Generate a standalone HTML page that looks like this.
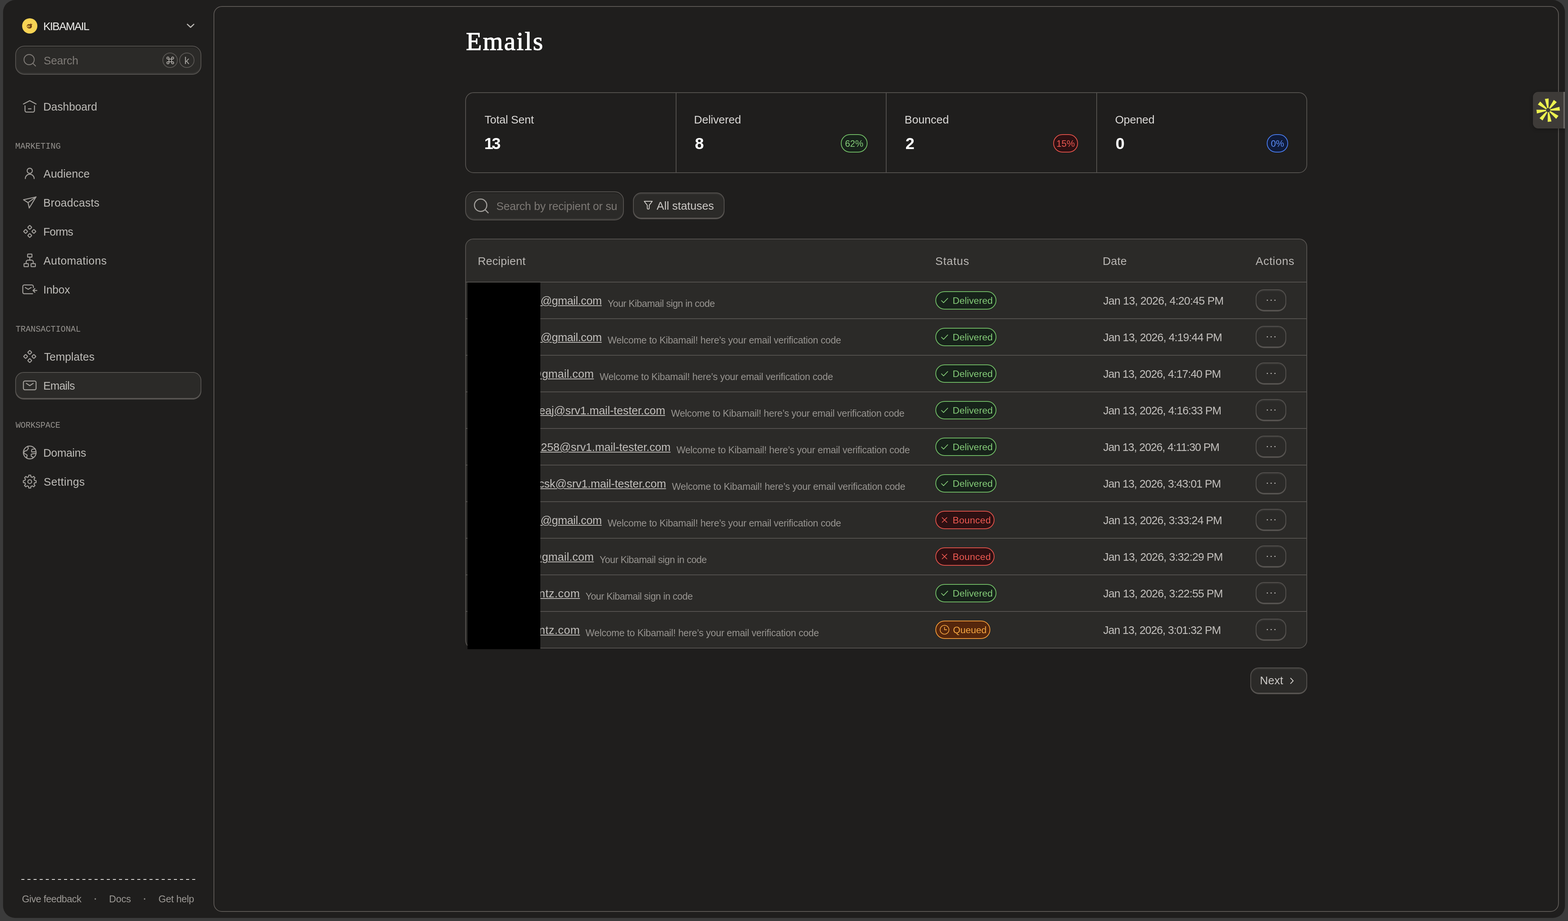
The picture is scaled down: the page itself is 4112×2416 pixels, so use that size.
<!DOCTYPE html>
<html lang="en"><head><meta charset="utf-8"><title>Emails – Kibamail</title><style>
html,body{margin:0;padding:0}
body{width:4112px;height:2416px;overflow:hidden;background:#3b3b3b;position:relative;font-family:'Liberation Sans',sans-serif}
div,svg,.t{position:absolute;box-sizing:border-box}
.t{white-space:pre}
.u{text-decoration:underline;text-decoration-thickness:2px;text-underline-offset:2px}
.pill{border-radius:24px;border:2px solid}
.g{background:#17221a;border-color:#74c168}
.r{background:#2d1012;border-color:#e5534b}
.o{background:#55260c;border-color:#f29a38}
.b{background:#0f1b3a;border-color:#4a7df0}
.btn{background:#2b2a28;border:2px solid #565350;border-radius:22px;box-shadow:0 2px 0 0 #565350,inset 0 3px 0 0 rgba(255,255,255,.055)}
.ln{background:#565350}
aside,main,header,section,nav,footer{display:contents}
h1,p{margin:0;font:inherit;display:contents}
@media (max-width:2100px){html{zoom:.5}}
</style></head>
<body>
<div style="left:8px;top:0px;width:4096px;height:2408px;background:#1f1e1d;border-radius:32px"></div>
<div style="left:560px;top:16px;width:3528px;height:2376px;border:2px solid #5e5a57;border-radius:22px"></div>
<aside><div style="left:58px;top:48px;width:40px;height:40px;border-radius:50%;background:#f7d354"></div><svg style="left:68px;top:58px" width="20" height="20" viewBox="0 0 20 20" fill="none" stroke="none" stroke-width="0" stroke-linecap="round" stroke-linejoin="round" ><path d="M2.4 10.6 C2.4 7.4 5 5.2 8.2 5.2 C9.4 5.2 10.4 5.4 11.2 5.8 L12.8 2.8 L13.8 5.6 L17.2 5 L14.8 8.2 C15.4 9.2 15.6 10.2 15.6 11.2 C15.6 14.6 12.8 16.8 9.2 16.8 C5.4 16.8 2.4 14.6 2.4 10.6 Z" fill="#6b3d12" stroke="none"/><ellipse cx="6.6" cy="11" rx="3" ry="2.6" fill="#f7d354" stroke="none"/><circle cx="7.2" cy="11" r="1.3" fill="#6b3d12" stroke="none"/><path d="M10.6 9 L9.6 13" stroke="#f7d354" stroke-width="1" fill="none"/></svg><span class="t" style="left:113.50px;top:53px;font-size:29px;line-height:32px;color:#ecebe9;letter-spacing:-1.77px;">KIBAMAIL</span><svg style="left:486px;top:54px" width="28" height="28" viewBox="0 0 28 28" fill="none" stroke="#bcb9b5" stroke-width="2.9" stroke-linecap="round" stroke-linejoin="round" ><path d="M5.4 9.8 L13.8 17.6 L22.2 9.8"/></svg><div style="left:40px;top:120px;width:488px;height:76px;background:#2b2a28;border:2px solid #565350;border-radius:24px;box-shadow:inset 0 4px 1px -1px rgba(0,0,0,.2),inset 0 -3px 0 0 rgba(255,255,255,.06)"></div><svg style="left:58px;top:138px" width="40" height="40" viewBox="0 0 40 40" fill="none" stroke="#7c7874" stroke-width="2.4" stroke-linecap="round" stroke-linejoin="round" ><circle cx="18.4" cy="18.4" r="13.4"/><path d="M28 28 L35.2 35.2"/></svg><span class="t" style="left:114.50px;top:143px;font-size:29px;line-height:32px;color:#7f7b77;letter-spacing:-0.2px;">Search</span><div style="left:426px;top:138px;width:40px;height:40px;border:2px solid #5a5754;border-radius:50%"></div><div style="left:470px;top:138px;width:40px;height:40px;border:2px solid #5a5754;border-radius:50%"></div><svg style="left:434.5px;top:146.5px" width="23" height="23" viewBox="0 0 20 20" fill="none" stroke="#a8a5a1" stroke-width="1.8" stroke-linecap="round" stroke-linejoin="round" ><path d="M7 7 H13 V13 H7 Z M7 7 H4.6 A2.4 2.4 0 1 1 7 4.6 Z M13 7 V4.6 A2.4 2.4 0 1 1 15.4 7 Z M13 13 H15.4 A2.4 2.4 0 1 1 13 15.4 Z M7 13 V15.4 A2.4 2.4 0 1 1 4.6 13 Z"/></svg><span class="t" style="left:483.50px;top:144px;font-size:26px;line-height:30px;color:#a8a5a1;">k</span><div style="left:40px;top:976px;width:488px;height:70px;background:#2b2a28;border:2px solid #575451;border-radius:22px;box-shadow:0 2px 0 0 #575451"></div><svg style="left:58px;top:260px" width="40" height="40" viewBox="0 0 40 40" fill="none" stroke="#a29f9b" stroke-width="2.5" stroke-linecap="round" stroke-linejoin="round" ><path d="M3.4 12.8 L20 4.2 L36.6 12.8"/><path d="M7.6 17.6 V30 a4 4 0 0 0 4 4 H28.4 a4 4 0 0 0 4 -4 V17.6"/><path d="M16.6 25.6 H23.4"/></svg><span class="t" style="left:113.50px;top:264px;font-size:29px;line-height:32px;color:#bdbbb7;letter-spacing:-0.07px;">Dashboard</span><svg style="left:58px;top:436px" width="40" height="40" viewBox="0 0 40 40" fill="none" stroke="#a29f9b" stroke-width="2.5" stroke-linecap="round" stroke-linejoin="round" ><circle cx="20" cy="12" r="6.8"/><path d="M8.4 32.6 A11.6 11.6 0 0 1 31.6 32.6"/></svg><span class="t" style="left:114.00px;top:440px;font-size:29px;line-height:32px;color:#bdbbb7;letter-spacing:0.07px;">Audience</span><svg style="left:58px;top:512px" width="40" height="40" viewBox="0 0 40 40" fill="none" stroke="#a29f9b" stroke-width="2.5" stroke-linecap="round" stroke-linejoin="round" ><path d="M3.6 12 L36.4 4.6 L18.6 33.6 L15.6 19.6 Z"/><path d="M15.6 19.6 L36.4 4.6"/></svg><span class="t" style="left:113.50px;top:516px;font-size:29px;line-height:32px;color:#bdbbb7;letter-spacing:0.24px;">Broadcasts</span><svg style="left:58px;top:588px" width="40" height="40" viewBox="0 0 40 40" fill="none" stroke="#a29f9b" stroke-width="2.5" stroke-linecap="round" stroke-linejoin="round" ><rect x="16.20" y="4.60" width="7.6" height="7.6" rx="1.4" transform="rotate(45 20 8.4)"/><rect x="5.40" y="15.30" width="7.6" height="7.6" rx="1.4" transform="rotate(45 9.2 19.1)"/><rect x="27.00" y="15.30" width="7.6" height="7.6" rx="1.4" transform="rotate(45 30.8 19.1)"/><rect x="16.20" y="26.00" width="7.6" height="7.6" rx="1.4" transform="rotate(45 20 29.8)"/></svg><span class="t" style="left:113.50px;top:592px;font-size:29px;line-height:32px;color:#bdbbb7;letter-spacing:-0.84px;">Forms</span><svg style="left:58px;top:664px" width="40" height="40" viewBox="0 0 40 40" fill="none" stroke="#a29f9b" stroke-width="2.5" stroke-linecap="round" stroke-linejoin="round" ><rect x="14.4" y="2.6" width="11.4" height="8" rx="1.2"/><rect x="5" y="27.6" width="11.4" height="8" rx="1.2"/><rect x="23.4" y="27.6" width="11.4" height="8" rx="1.2"/><path d="M20.1 10.6 V18.6 M10.7 27.6 V22.6 a4 4 0 0 1 4 -4 H25.1 a4 4 0 0 1 4 4 V27.6"/></svg><span class="t" style="left:114.00px;top:668px;font-size:29px;line-height:32px;color:#bdbbb7;letter-spacing:0.46px;">Automations</span><svg style="left:58px;top:740px" width="40" height="40" viewBox="0 0 40 40" fill="none" stroke="#a29f9b" stroke-width="2.5" stroke-linecap="round" stroke-linejoin="round" ><path d="M29.4 14.5 V11.4 a4 4 0 0 0 -4 -4 H5.8 a4 4 0 0 0 -4 4 V26.6 a4 4 0 0 0 4 4 H27.5"/><path d="M8.2 14.2 L16 19 L23.8 14.2"/><path d="M38.6 22 H28.6 M33.4 17.2 L28.6 22 L33.4 26.8"/></svg><span class="t" style="left:113.50px;top:744px;font-size:29px;line-height:32px;color:#bdbbb7;letter-spacing:-0.16px;">Inbox</span><svg style="left:58px;top:916px" width="40" height="40" viewBox="0 0 40 40" fill="none" stroke="#a29f9b" stroke-width="2.5" stroke-linecap="round" stroke-linejoin="round" ><rect x="16.20" y="4.60" width="7.6" height="7.6" rx="1.4" transform="rotate(45 20 8.4)"/><rect x="5.40" y="15.30" width="7.6" height="7.6" rx="1.4" transform="rotate(45 9.2 19.1)"/><rect x="27.00" y="15.30" width="7.6" height="7.6" rx="1.4" transform="rotate(45 30.8 19.1)"/><rect x="16.20" y="26.00" width="7.6" height="7.6" rx="1.4" transform="rotate(45 20 29.8)"/></svg><span class="t" style="left:115.50px;top:920px;font-size:29px;line-height:32px;color:#bdbbb7;letter-spacing:0.03px;">Templates</span><svg style="left:58px;top:992px" width="40" height="40" viewBox="0 0 40 40" fill="none" stroke="#a29f9b" stroke-width="2.5" stroke-linecap="round" stroke-linejoin="round" ><rect x="3.4" y="7.4" width="33.2" height="23.2" rx="4"/><path d="M11 13.8 L20 19.6 L29 13.8"/></svg><span class="t" style="left:113.50px;top:996px;font-size:29px;line-height:32px;color:#bdbbb7;letter-spacing:-0.76px;">Emails</span><svg style="left:58px;top:1168px" width="40" height="40" viewBox="0 0 40 40" fill="none" stroke="#a29f9b" stroke-width="2.5" stroke-linecap="round" stroke-linejoin="round" ><circle cx="20" cy="19" r="16.7"/><path d="M14.7 2.8 L16.4 8.6 L12 14.2 L7.4 15 L4.2 19.2"/><path d="M4.2 20.8 L10.6 24 L13.4 26.4 L11.8 31.2 L13 34.4"/><path d="M34.4 9.4 L26 10.4 L24.4 14.6 L25.4 17.8 L36.2 16.8"/><path d="M36.4 21.2 L27 22.6 L23.6 23.8 L24.2 29 L28.4 30.6 L27.4 34.4"/></svg><span class="t" style="left:113.50px;top:1172px;font-size:29px;line-height:32px;color:#bdbbb7;letter-spacing:-0.32px;">Domains</span><svg style="left:58px;top:1244px" width="40" height="40" viewBox="0 0 40 40" fill="none" stroke="#a29f9b" stroke-width="2.5" stroke-linecap="round" stroke-linejoin="round" ><path d="M16.87 6.78 L17.47 2.59 L22.53 2.59 L23.13 6.78 L26.71 8.26 L30.10 5.73 L33.67 9.30 L31.14 12.69 L32.62 16.27 L36.81 16.87 L36.81 21.93 L32.62 22.53 L31.14 26.11 L33.67 29.50 L30.10 33.07 L26.71 30.54 L23.13 32.02 L22.53 36.21 L17.47 36.21 L16.87 32.02 L13.29 30.54 L9.90 33.07 L6.33 29.50 L8.86 26.11 L7.38 22.53 L3.19 21.93 L3.19 16.87 L7.38 16.27 L8.86 12.69 L6.33 9.30 L9.90 5.73 L13.29 8.26 Z" stroke-linejoin="round"/><circle cx="20" cy="19.4" r="5"/></svg><span class="t" style="left:114.50px;top:1248px;font-size:29px;line-height:32px;color:#bdbbb7;letter-spacing:0.44px;">Settings</span><span class="t" style="left:40.00px;top:372px;font-size:22px;line-height:25px;color:#95928e;font-family:'Liberation Mono', monospace;letter-spacing:0.04px;">MARKETING</span><span class="t" style="left:41.00px;top:852px;font-size:22px;line-height:25px;color:#95928e;font-family:'Liberation Mono', monospace;letter-spacing:-0.08px;">TRANSACTIONAL</span><span class="t" style="left:41.00px;top:1104px;font-size:22px;line-height:25px;color:#95928e;font-family:'Liberation Mono', monospace;letter-spacing:-0.21px;">WORKSPACE</span><div style="left:56px;top:2306px;width:456px;height:2px;background:repeating-linear-gradient(90deg,#e9e7e4 0 8px,transparent 8px 16px)"></div><span class="t" style="left:57.50px;top:2344px;font-size:25.5px;line-height:28px;color:#9b9894;letter-spacing:-0.56px;">Give feedback</span><span class="t" style="left:244.20px;top:2336px;font-size:34px;line-height:38px;color:#8f8c88;">·</span><span class="t" style="left:286.00px;top:2344px;font-size:25.5px;line-height:28px;color:#9b9894;letter-spacing:-0.22px;">Docs</span><span class="t" style="left:373.50px;top:2336px;font-size:34px;line-height:38px;color:#8f8c88;">·</span><span class="t" style="left:415.50px;top:2344px;font-size:25.5px;line-height:28px;color:#9b9894;letter-spacing:-0.39px;">Get help</span></aside>
<main>
<header><h1><span class="t" style="left:1222.00px;top:70px;font-size:68px;line-height:76px;color:#ffffff;font-family:'Liberation Serif', serif;letter-spacing:2.62px;-webkit-text-stroke:1.3px #fff;">Emails</span></h1></header>
<section><div style="left:1220px;top:242px;width:2208px;height:212px;border:2px solid #565350;border-radius:22px"></div><div style="left:1772px;top:244px;width:2px;height:208px;background:#565350"></div><div style="left:2323px;top:244px;width:2px;height:208px;background:#565350"></div><div style="left:2875px;top:244px;width:2px;height:208px;background:#565350"></div><span class="t" style="left:1270.75px;top:297px;font-size:29.5px;line-height:33px;color:#dad8d6;letter-spacing:-0.19px;">Total Sent</span><span class="t" style="left:1269.95px;top:353px;font-size:42.5px;line-height:47px;color:#ffffff;font-weight:700;letter-spacing:-4px;">13</span><span class="t" style="left:1820.00px;top:297px;font-size:29.5px;line-height:33px;color:#dad8d6;letter-spacing:-0.15px;">Delivered</span><span class="t" style="left:1822.20px;top:353px;font-size:42.5px;line-height:47px;color:#ffffff;font-weight:700;">8</span><div class="pill g" style="left:2205px;top:352px;width:70px;height:48px;"></div><span class="t" style="left:2205px;top:352px;width:70px;height:48px;line-height:49px;text-align:center;font-size:24px;color:#84cb78">62%</span><span class="t" style="left:2372.30px;top:297px;font-size:29.5px;line-height:33px;color:#dad8d6;letter-spacing:-0.06px;">Bounced</span><span class="t" style="left:2374.50px;top:353px;font-size:42.5px;line-height:47px;color:#ffffff;font-weight:700;">2</span><div class="pill r" style="left:2762px;top:352px;width:65px;height:48px;"></div><span class="t" style="left:2762px;top:352px;width:65px;height:48px;line-height:49px;text-align:center;font-size:24px;color:#ee5a52">15%</span><span class="t" style="left:2924.20px;top:297px;font-size:29.5px;line-height:33px;color:#dad8d6;letter-spacing:-0.27px;">Opened</span><span class="t" style="left:2925.40px;top:353px;font-size:42.5px;line-height:47px;color:#ffffff;font-weight:700;">0</span><div class="pill b" style="left:3322px;top:352px;width:56px;height:48px;"></div><span class="t" style="left:3322px;top:352px;width:56px;height:48px;line-height:49px;text-align:center;font-size:24px;color:#5b8cf5">0%</span></section>
<section><div style="left:1220px;top:502px;width:416px;height:76px;background:#2b2a28;border:2px solid #565350;border-radius:24px;box-shadow:inset 0 4px 1px -1px rgba(0,0,0,.2),inset 0 -3px 0 0 rgba(255,255,255,.06);overflow:hidden"></div><svg style="left:1240px;top:518.6px" width="44" height="44" viewBox="0 0 44 44" fill="none" stroke="#a29f9b" stroke-width="2.8" stroke-linecap="round" stroke-linejoin="round" ><circle cx="20.4" cy="19.4" r="16.2"/><path d="M32.2 31.2 L40.2 39.2"/></svg><div style="left:1300px;top:510px;width:319px;height:60px;overflow:hidden"><span class="t" style="left:1.50px;top:15px;font-size:29.2px;line-height:32px;color:#7d7975;letter-spacing:-0.23px;">Search by recipient or su</span></div><div class="btn" style="left:1660px;top:505px;width:240px;height:68px;"></div><svg style="left:1686px;top:524px" width="28" height="28" viewBox="0 0 28 28" fill="none" stroke="#dddad6" stroke-width="1.9" stroke-linecap="round" stroke-linejoin="round" ><path d="M3.4 4 H24.6 L16.6 14.4 V22 Q16.6 24.6 14 24.6 Q11.4 24.6 11.4 22 V14.4 Z"/></svg><span class="t" style="left:1722.00px;top:523px;font-size:29.5px;line-height:33px;color:#cbc8c5;letter-spacing:-0.05px;">All statuses</span></section>
<section><div style="left:1220px;top:626px;width:2208px;height:1075px;background:#2b2a28;border:2px solid #565350;border-radius:21px;overflow:hidden"></div><span class="t" style="left:1252.90px;top:668px;font-size:29.5px;line-height:33px;color:#b9b6b3;letter-spacing:0.29px;">Recipient</span><span class="t" style="left:2452.75px;top:668px;font-size:29.5px;line-height:33px;color:#b9b6b3;letter-spacing:0.97px;">Status</span><span class="t" style="left:2891.75px;top:668px;font-size:29.5px;line-height:33px;color:#b9b6b3;letter-spacing:0.28px;">Date</span><span class="t" style="left:3292.75px;top:668px;font-size:29.5px;line-height:33px;color:#b9b6b3;letter-spacing:0.75px;">Actions</span><div style="left:1222px;top:739px;width:2204px;height:2px;background:#565350"></div><span class="t u" style="left:1409.70px;top:772px;font-size:29.5px;line-height:33px;color:#c2bfbc;letter-spacing:-0.394px;"> @gmail.com</span><span class="t" style="left:1593.55px;top:782px;font-size:25.2px;line-height:28px;color:#979490;letter-spacing:-0.58px;">Your Kibamail sign in code</span><div class="pill g" style="left:2453px;top:764px;width:160px;height:48px;"></div><svg style="left:2465px;top:776px" width="24" height="24" viewBox="0 0 24 24" fill="none" stroke="#84cb78" stroke-width="1.9" stroke-linecap="round" stroke-linejoin="round" ><path d="M4 12.6 L9.4 18 L20.4 6.6"/></svg><span class="t" style="left:2498.30px;top:775px;font-size:24.8px;line-height:27px;color:#84cb78;letter-spacing:0.03px;">Delivered</span><span class="t" style="left:2893.00px;top:773px;font-size:29.2px;line-height:32px;color:#c2bfbc;letter-spacing:-0.78px;">Jan 13, 2026, 4:20:45 PM</span><div class="btn" style="left:3293px;top:759px;width:80px;height:56px;"></div><div style="left:3321.5px;top:785.5px;width:3px;height:3px;background:#cfccc8;border-radius:50%"></div><div style="left:3331.5px;top:785.5px;width:3px;height:3px;background:#cfccc8;border-radius:50%"></div><div style="left:3341.5px;top:785.5px;width:3px;height:3px;background:#cfccc8;border-radius:50%"></div><div style="left:1222px;top:835px;width:2204px;height:2px;background:#565350"></div><span class="t u" style="left:1409.70px;top:868px;font-size:29.5px;line-height:33px;color:#c2bfbc;letter-spacing:-0.394px;"> @gmail.com</span><span class="t" style="left:1593.55px;top:878px;font-size:25.2px;line-height:28px;color:#979490;letter-spacing:-0.33px;">Welcome to Kibamail! here’s your email verification code</span><div class="pill g" style="left:2453px;top:860px;width:160px;height:48px;"></div><svg style="left:2465px;top:872px" width="24" height="24" viewBox="0 0 24 24" fill="none" stroke="#84cb78" stroke-width="1.9" stroke-linecap="round" stroke-linejoin="round" ><path d="M4 12.6 L9.4 18 L20.4 6.6"/></svg><span class="t" style="left:2498.30px;top:871px;font-size:24.8px;line-height:27px;color:#84cb78;letter-spacing:0.03px;">Delivered</span><span class="t" style="left:2893.00px;top:869px;font-size:29.2px;line-height:32px;color:#c2bfbc;letter-spacing:-0.95px;">Jan 13, 2026, 4:19:44 PM</span><div class="btn" style="left:3293px;top:855px;width:80px;height:56px;"></div><div style="left:3321.5px;top:881.5px;width:3px;height:3px;background:#cfccc8;border-radius:50%"></div><div style="left:3331.5px;top:881.5px;width:3px;height:3px;background:#cfccc8;border-radius:50%"></div><div style="left:3341.5px;top:881.5px;width:3px;height:3px;background:#cfccc8;border-radius:50%"></div><div style="left:1222px;top:931px;width:2204px;height:2px;background:#565350"></div><span class="t u" style="left:1391.06px;top:964px;font-size:29.5px;line-height:33px;color:#c2bfbc;letter-spacing:0.194px;">@gmail.com</span><span class="t" style="left:1572.40px;top:974px;font-size:25.2px;line-height:28px;color:#979490;letter-spacing:-0.33px;">Welcome to Kibamail! here’s your email verification code</span><div class="pill g" style="left:2453px;top:956px;width:160px;height:48px;"></div><svg style="left:2465px;top:968px" width="24" height="24" viewBox="0 0 24 24" fill="none" stroke="#84cb78" stroke-width="1.9" stroke-linecap="round" stroke-linejoin="round" ><path d="M4 12.6 L9.4 18 L20.4 6.6"/></svg><span class="t" style="left:2498.30px;top:967px;font-size:24.8px;line-height:27px;color:#84cb78;letter-spacing:0.03px;">Delivered</span><span class="t" style="left:2893.00px;top:965px;font-size:29.2px;line-height:32px;color:#c2bfbc;letter-spacing:-1.09px;">Jan 13, 2026, 4:17:40 PM</span><div class="btn" style="left:3293px;top:951px;width:80px;height:56px;"></div><div style="left:3321.5px;top:977.5px;width:3px;height:3px;background:#cfccc8;border-radius:50%"></div><div style="left:3331.5px;top:977.5px;width:3px;height:3px;background:#cfccc8;border-radius:50%"></div><div style="left:3341.5px;top:977.5px;width:3px;height:3px;background:#cfccc8;border-radius:50%"></div><div style="left:1222px;top:1027px;width:2204px;height:2px;background:#565350"></div><span class="t u" style="left:1413.71px;top:1060px;font-size:29.5px;line-height:33px;color:#c2bfbc;letter-spacing:-0.107px;">eaj@srv1.mail-tester.com</span><span class="t" style="left:1759.70px;top:1070px;font-size:25.2px;line-height:28px;color:#979490;letter-spacing:-0.33px;">Welcome to Kibamail! here’s your email verification code</span><div class="pill g" style="left:2453px;top:1052px;width:160px;height:48px;"></div><svg style="left:2465px;top:1064px" width="24" height="24" viewBox="0 0 24 24" fill="none" stroke="#84cb78" stroke-width="1.9" stroke-linecap="round" stroke-linejoin="round" ><path d="M4 12.6 L9.4 18 L20.4 6.6"/></svg><span class="t" style="left:2498.30px;top:1063px;font-size:24.8px;line-height:27px;color:#84cb78;letter-spacing:0.03px;">Delivered</span><span class="t" style="left:2893.00px;top:1061px;font-size:29.2px;line-height:32px;color:#c2bfbc;letter-spacing:-1.04px;">Jan 13, 2026, 4:16:33 PM</span><div class="btn" style="left:3293px;top:1047px;width:80px;height:56px;"></div><div style="left:3321.5px;top:1073.5px;width:3px;height:3px;background:#cfccc8;border-radius:50%"></div><div style="left:3331.5px;top:1073.5px;width:3px;height:3px;background:#cfccc8;border-radius:50%"></div><div style="left:3341.5px;top:1073.5px;width:3px;height:3px;background:#cfccc8;border-radius:50%"></div><div style="left:1222px;top:1123px;width:2204px;height:2px;background:#565350"></div><span class="t u" style="left:1410.32px;top:1156px;font-size:29.5px;line-height:33px;color:#c2bfbc;letter-spacing:-0.122px;"> 258@srv1.mail-tester.com</span><span class="t" style="left:1773.90px;top:1166px;font-size:25.2px;line-height:28px;color:#979490;letter-spacing:-0.33px;">Welcome to Kibamail! here’s your email verification code</span><div class="pill g" style="left:2453px;top:1148px;width:160px;height:48px;"></div><svg style="left:2465px;top:1160px" width="24" height="24" viewBox="0 0 24 24" fill="none" stroke="#84cb78" stroke-width="1.9" stroke-linecap="round" stroke-linejoin="round" ><path d="M4 12.6 L9.4 18 L20.4 6.6"/></svg><span class="t" style="left:2498.30px;top:1159px;font-size:24.8px;line-height:27px;color:#84cb78;letter-spacing:0.03px;">Delivered</span><span class="t" style="left:2893.00px;top:1157px;font-size:29.2px;line-height:32px;color:#c2bfbc;letter-spacing:-1.16px;">Jan 13, 2026, 4:11:30 PM</span><div class="btn" style="left:3293px;top:1143px;width:80px;height:56px;"></div><div style="left:3321.5px;top:1169.5px;width:3px;height:3px;background:#cfccc8;border-radius:50%"></div><div style="left:3331.5px;top:1169.5px;width:3px;height:3px;background:#cfccc8;border-radius:50%"></div><div style="left:3341.5px;top:1169.5px;width:3px;height:3px;background:#cfccc8;border-radius:50%"></div><div style="left:1222px;top:1219px;width:2204px;height:2px;background:#565350"></div><span class="t u" style="left:1412.41px;top:1252px;font-size:29.5px;line-height:33px;color:#c2bfbc;letter-spacing:-0.163px;">csk@srv1.mail-tester.com</span><span class="t" style="left:1762.00px;top:1262px;font-size:25.2px;line-height:28px;color:#979490;letter-spacing:-0.33px;">Welcome to Kibamail! here’s your email verification code</span><div class="pill g" style="left:2453px;top:1244px;width:160px;height:48px;"></div><svg style="left:2465px;top:1256px" width="24" height="24" viewBox="0 0 24 24" fill="none" stroke="#84cb78" stroke-width="1.9" stroke-linecap="round" stroke-linejoin="round" ><path d="M4 12.6 L9.4 18 L20.4 6.6"/></svg><span class="t" style="left:2498.30px;top:1255px;font-size:24.8px;line-height:27px;color:#84cb78;letter-spacing:0.03px;">Delivered</span><span class="t" style="left:2893.00px;top:1253px;font-size:29.2px;line-height:32px;color:#c2bfbc;letter-spacing:-1.09px;">Jan 13, 2026, 3:43:01 PM</span><div class="btn" style="left:3293px;top:1239px;width:80px;height:56px;"></div><div style="left:3321.5px;top:1265.5px;width:3px;height:3px;background:#cfccc8;border-radius:50%"></div><div style="left:3331.5px;top:1265.5px;width:3px;height:3px;background:#cfccc8;border-radius:50%"></div><div style="left:3341.5px;top:1265.5px;width:3px;height:3px;background:#cfccc8;border-radius:50%"></div><div style="left:1222px;top:1315px;width:2204px;height:2px;background:#565350"></div><span class="t u" style="left:1409.70px;top:1348px;font-size:29.5px;line-height:33px;color:#c2bfbc;letter-spacing:-0.394px;"> @gmail.com</span><span class="t" style="left:1593.55px;top:1358px;font-size:25.2px;line-height:28px;color:#979490;letter-spacing:-0.33px;">Welcome to Kibamail! here’s your email verification code</span><div class="pill r" style="left:2453px;top:1340px;width:155px;height:48px;"></div><svg style="left:2465px;top:1352px" width="24" height="24" viewBox="0 0 24 24" fill="none" stroke="#ee5a52" stroke-width="1.8" stroke-linecap="round" stroke-linejoin="round" ><path d="M5.8 5.8 L18.2 18.2 M18.2 5.8 L5.8 18.2"/></svg><span class="t" style="left:2498.30px;top:1351px;font-size:24.8px;line-height:27px;color:#ee5a52;letter-spacing:0.35px;">Bounced</span><span class="t" style="left:2893.00px;top:1349px;font-size:29.2px;line-height:32px;color:#c2bfbc;letter-spacing:-0.95px;">Jan 13, 2026, 3:33:24 PM</span><div class="btn" style="left:3293px;top:1335px;width:80px;height:56px;"></div><div style="left:3321.5px;top:1361.5px;width:3px;height:3px;background:#cfccc8;border-radius:50%"></div><div style="left:3331.5px;top:1361.5px;width:3px;height:3px;background:#cfccc8;border-radius:50%"></div><div style="left:3341.5px;top:1361.5px;width:3px;height:3px;background:#cfccc8;border-radius:50%"></div><div style="left:1222px;top:1411px;width:2204px;height:2px;background:#565350"></div><span class="t u" style="left:1391.06px;top:1444px;font-size:29.5px;line-height:33px;color:#c2bfbc;letter-spacing:0.194px;">@gmail.com</span><span class="t" style="left:1572.40px;top:1454px;font-size:25.2px;line-height:28px;color:#979490;letter-spacing:-0.58px;">Your Kibamail sign in code</span><div class="pill r" style="left:2453px;top:1436px;width:155px;height:48px;"></div><svg style="left:2465px;top:1448px" width="24" height="24" viewBox="0 0 24 24" fill="none" stroke="#ee5a52" stroke-width="1.8" stroke-linecap="round" stroke-linejoin="round" ><path d="M5.8 5.8 L18.2 18.2 M18.2 5.8 L5.8 18.2"/></svg><span class="t" style="left:2498.30px;top:1447px;font-size:24.8px;line-height:27px;color:#ee5a52;letter-spacing:0.35px;">Bounced</span><span class="t" style="left:2893.00px;top:1445px;font-size:29.2px;line-height:32px;color:#c2bfbc;letter-spacing:-0.87px;">Jan 13, 2026, 3:32:29 PM</span><div class="btn" style="left:3293px;top:1431px;width:80px;height:56px;"></div><div style="left:3321.5px;top:1457.5px;width:3px;height:3px;background:#cfccc8;border-radius:50%"></div><div style="left:3331.5px;top:1457.5px;width:3px;height:3px;background:#cfccc8;border-radius:50%"></div><div style="left:3341.5px;top:1457.5px;width:3px;height:3px;background:#cfccc8;border-radius:50%"></div><div style="left:1222px;top:1507px;width:2204px;height:2px;background:#565350"></div><span class="t u" style="left:1413.15px;top:1540px;font-size:29.5px;line-height:33px;color:#c2bfbc;letter-spacing:0.64px;">ntz.com</span><span class="t" style="left:1535.50px;top:1550px;font-size:25.2px;line-height:28px;color:#979490;letter-spacing:-0.58px;">Your Kibamail sign in code</span><div class="pill g" style="left:2453px;top:1532px;width:160px;height:48px;"></div><svg style="left:2465px;top:1544px" width="24" height="24" viewBox="0 0 24 24" fill="none" stroke="#84cb78" stroke-width="1.9" stroke-linecap="round" stroke-linejoin="round" ><path d="M4 12.6 L9.4 18 L20.4 6.6"/></svg><span class="t" style="left:2498.30px;top:1543px;font-size:24.8px;line-height:27px;color:#84cb78;letter-spacing:0.03px;">Delivered</span><span class="t" style="left:2893.00px;top:1541px;font-size:29.2px;line-height:32px;color:#c2bfbc;letter-spacing:-0.87px;">Jan 13, 2026, 3:22:55 PM</span><div class="btn" style="left:3293px;top:1527px;width:80px;height:56px;"></div><div style="left:3321.5px;top:1553.5px;width:3px;height:3px;background:#cfccc8;border-radius:50%"></div><div style="left:3331.5px;top:1553.5px;width:3px;height:3px;background:#cfccc8;border-radius:50%"></div><div style="left:3341.5px;top:1553.5px;width:3px;height:3px;background:#cfccc8;border-radius:50%"></div><div style="left:1222px;top:1603px;width:2204px;height:2px;background:#565350"></div><span class="t u" style="left:1413.15px;top:1636px;font-size:29.5px;line-height:33px;color:#c2bfbc;letter-spacing:0.64px;">ntz.com</span><span class="t" style="left:1535.50px;top:1646px;font-size:25.2px;line-height:28px;color:#979490;letter-spacing:-0.33px;">Welcome to Kibamail! here’s your email verification code</span><div class="pill o" style="left:2453px;top:1628px;width:144px;height:48px;"></div><svg style="left:2463px;top:1638px" width="28" height="28" viewBox="0 0 28 28" fill="none" stroke="#f5a742" stroke-width="1.8" stroke-linecap="round" stroke-linejoin="round" ><circle cx="14" cy="14" r="11.6"/><path d="M14 7.4 V14 H19.6"/></svg><span class="t" style="left:2499.30px;top:1639px;font-size:24.8px;line-height:27px;color:#f5a742;letter-spacing:-0.05px;">Queued</span><span class="t" style="left:2893.00px;top:1637px;font-size:29.2px;line-height:32px;color:#c2bfbc;letter-spacing:-1.09px;">Jan 13, 2026, 3:01:32 PM</span><div class="btn" style="left:3293px;top:1623px;width:80px;height:56px;"></div><div style="left:3321.5px;top:1649.5px;width:3px;height:3px;background:#cfccc8;border-radius:50%"></div><div style="left:3331.5px;top:1649.5px;width:3px;height:3px;background:#cfccc8;border-radius:50%"></div><div style="left:3341.5px;top:1649.5px;width:3px;height:3px;background:#cfccc8;border-radius:50%"></div><div style="left:1226px;top:741px;width:191px;height:962px;background:#000"></div></section>
<nav><div class="btn" style="left:3279px;top:1751px;width:149px;height:68px;"></div><span class="t" style="left:3304.00px;top:1768px;font-size:29.5px;line-height:33px;color:#cbc8c5;letter-spacing:0.11px;">Next</span><svg style="left:3374.4px;top:1771.5px" width="28" height="28" viewBox="0 0 28 28" fill="none" stroke="#dddad6" stroke-width="1.9" stroke-linecap="round" stroke-linejoin="round" ><path d="M10.6 7 L17.4 14 L10.6 21"/></svg></nav>
</main>
<div style="left:4020px;top:241px;width:84px;height:96px;background:#3e3b38;border-radius:14px 0 0 14px;box-shadow:0 3px 10px rgba(0,0,0,.28)"></div><div style="left:4100px;top:241px;width:4px;height:96px;background:#696663"></div><svg style="left:4027.7px;top:257.2px" width="64" height="64" viewBox="-32 -32 64 64" fill="#ecf24f" stroke="none"><path d="M-1.7 -5.5 L-5 -30.4 L5 -30.4 L1.7 -5.5 Z" transform="rotate(-7)"/><path d="M-1.7 -5.5 L-5 -30.4 L5 -30.4 L1.7 -5.5 Z" transform="rotate(38)"/><path d="M-1.7 -5.5 L-5 -30.4 L5 -30.4 L1.7 -5.5 Z" transform="rotate(83)"/><path d="M-1.7 -5.5 L-5 -30.4 L5 -30.4 L1.7 -5.5 Z" transform="rotate(128)"/><path d="M-1.7 -5.5 L-5 -30.4 L5 -30.4 L1.7 -5.5 Z" transform="rotate(173)"/><path d="M-1.7 -5.5 L-5 -30.4 L5 -30.4 L1.7 -5.5 Z" transform="rotate(218)"/><path d="M-1.7 -5.5 L-5 -30.4 L5 -30.4 L1.7 -5.5 Z" transform="rotate(263)"/><path d="M-1.7 -5.5 L-5 -30.4 L5 -30.4 L1.7 -5.5 Z" transform="rotate(308)"/></svg>
</body></html>
